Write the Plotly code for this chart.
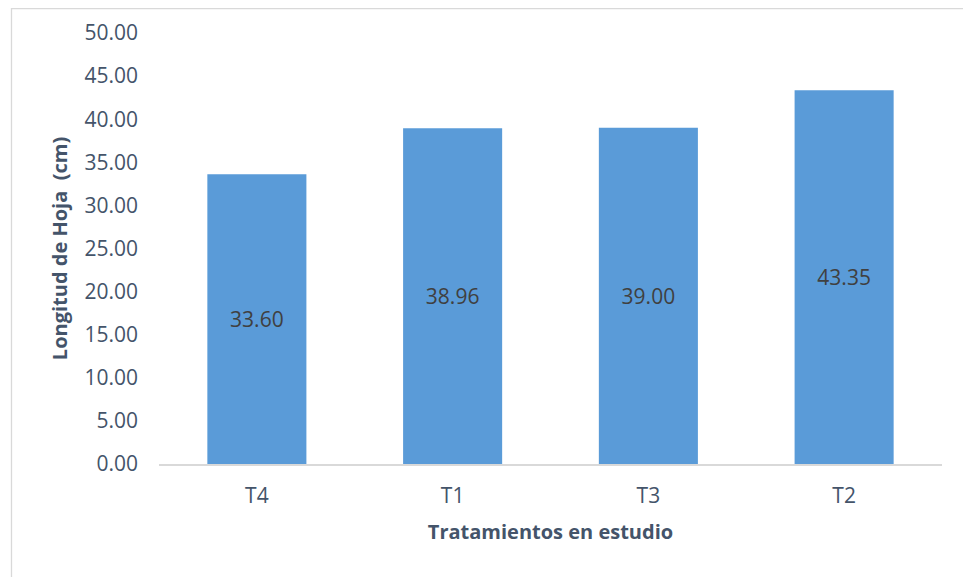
import plotly.graph_objects as go

categories = ["T4", "T1", "T3", "T2"]
values = [33.60, 38.96, 39.00, 43.35]
y_ticks = [0, 5, 10, 15, 20, 25, 30, 35, 40, 45, 50]
y_tick_labels = [f"{v:.2f}" for v in y_ticks]
value_labels = [f"{v:.2f}" for v in values]

W, H = 963, 569
L, R, T, B = 151, 29, 25, 113
pw, ph = W - L - R, H - T - B

fig = go.Figure()
fig.add_trace(go.Bar(
    x=categories, y=values,
    text=value_labels, textposition="inside", insidetextanchor="middle",
    textfont=dict(family="Open Sans", size=21, color="#404040"),
    marker=dict(color="#5a9bd8", line=dict(width=0)),
    width=0.506, hoverinfo="skip",
))

def px_x(p):
    return (p - L) / pw

def px_y(p):
    return (H - B - p) / ph

fig.add_shape(type="rect", xref="paper", yref="paper",
              x0=px_x(3.5), x1=px_x(962), y0=px_y(620), y1=px_y(0.5),
              line=dict(color="#d9d9d9", width=1.3), fillcolor="rgba(0,0,0,0)", layer="below")

fig.update_layout(
    width=W, height=H,
    margin=dict(l=L, r=R, t=T, b=B, autoexpand=False),
    paper_bgcolor="white", plot_bgcolor="white",
    showlegend=False,
    font=dict(family="Open Sans", color="#44546a"),
    xaxis=dict(
        showline=True, linecolor="#d9d9d9", linewidth=1.5,
        ticks="", tickfont=dict(family="Open Sans", size=21, color="#44546a"),
        ticklabelstandoff=12,
        title=dict(text="<b>Tratamientos en estudio</b>", font=dict(size=20, color="#44546a"), standoff=17),
        showgrid=False, zeroline=False,
    ),
    yaxis=dict(
        range=[0, 50], tickvals=y_ticks, ticktext=y_tick_labels,
        showline=False, showgrid=False, zeroline=False, ticks="",
        tickfont=dict(size=21, color="#44546a"),
        ticklabelstandoff=20,
        title=dict(text="<b>Longitud de Hoja  (cm)</b>", font=dict(size=20, color="#44546a"), standoff=11),
    ),
)

fig.write_html("out.html")
